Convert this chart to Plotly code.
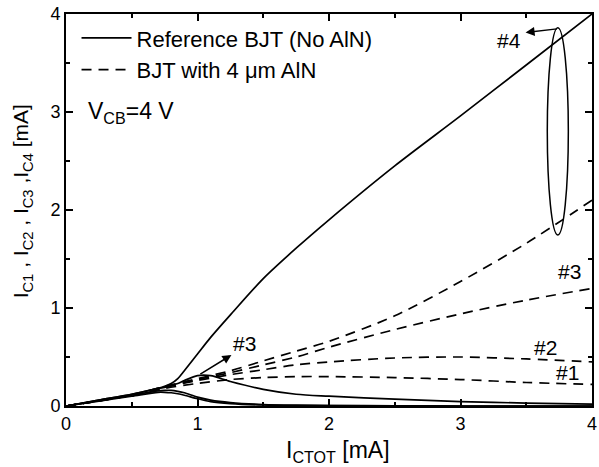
import plotly.graph_objects as go

# Reference BJT (No AlN) - solid
x_ref = [0, 0.25, 0.5, 0.7, 0.75, 0.8, 0.85, 0.9, 1.0, 1.1, 1.25, 1.5, 1.75, 2.0, 2.5, 3.0, 3.5, 4.0]
ref_c4 = [0, 0.06, 0.12, 0.18, 0.2, 0.23, 0.28, 0.36, 0.53, 0.7, 0.93, 1.3, 1.61, 1.9, 2.45, 2.96, 3.48, 4.0]
ref_c3 = [0, 0.06, 0.12, 0.18, 0.19, 0.21, 0.23, 0.26, 0.31, 0.31, 0.25, 0.17, 0.12, 0.1, 0.07, 0.045, 0.03, 0.02]
ref_c2 = [0, 0.055, 0.11, 0.155, 0.16, 0.16, 0.15, 0.135, 0.09, 0.06, 0.035, 0.015, 0.008, 0.005, 0.002, 0.0, 0.0, 0.0]
ref_c1 = [0, 0.05, 0.1, 0.14, 0.14, 0.135, 0.125, 0.11, 0.075, 0.045, 0.025, 0.01, 0.005, 0.003, 0.001, 0.0, 0.0, 0.0]

# BJT with 4 um AlN - dashed
x_aln = [0, 0.5, 0.75, 1.0, 1.25, 1.5, 1.75, 2.0, 2.5, 3.0, 3.5, 4.0]
aln_c4 = [0, 0.11, 0.2, 0.28, 0.36, 0.46, 0.56, 0.66, 0.92, 1.27, 1.66, 2.1]
aln_c3 = [0, 0.11, 0.19, 0.27, 0.34, 0.42, 0.5, 0.6, 0.78, 0.94, 1.08, 1.2]
aln_c2 = [0, 0.11, 0.19, 0.26, 0.32, 0.37, 0.42, 0.45, 0.49, 0.5, 0.48, 0.45]
aln_c1 = [0, 0.11, 0.18, 0.23, 0.27, 0.29, 0.3, 0.3, 0.29, 0.27, 0.24, 0.22]

x_ticks = [0, 1, 2, 3, 4]
y_ticks = [0, 1, 2, 3, 4]

FONT = "Liberation Sans, Arial, sans-serif"
fig = go.Figure()

for i, ys in enumerate([ref_c1, ref_c2, ref_c3, ref_c4]):
    fig.add_trace(go.Scatter(x=x_ref, y=ys, mode="lines", line=dict(color="black", width=1.7, shape="spline", smoothing=0.8),
                             name="Reference BJT (No AlN)", legendgroup="ref", showlegend=(i == 0)))
for i, ys in enumerate([aln_c1, aln_c2, aln_c3, aln_c4]):
    fig.add_trace(go.Scatter(x=x_aln, y=ys, mode="lines", line=dict(color="black", width=1.7, dash="10px,7px", shape="spline", smoothing=0.8),
                             name="BJT with 4 \u03bcm AlN", legendgroup="aln", showlegend=(i == 0)))

axis_common = dict(range=[0, 4], showgrid=False, zeroline=False, showline=True, linecolor="black", linewidth=2,
                   mirror="ticks", ticks="inside", ticklen=7, tickwidth=1.5, tickcolor="black",
                   ticklabeloverflow="allow",
                   tickfont=dict(family=FONT, size=18, color="black"),
                   minor=dict(ticks="inside", ticklen=4, tickwidth=1.5, tickcolor="black", dtick=0.5))

fig.update_xaxes(**axis_common, tickvals=x_ticks)
fig.update_yaxes(**axis_common, tickvals=y_ticks)

# Axis titles
fig.add_annotation(x=0.518, y=-0.117, xref="paper", yref="paper", text="I<sub>CTOT</sub> [mA]", showarrow=False,
                   xanchor="center", yanchor="middle", font=dict(family=FONT, size=23, color="black"))
fig.add_annotation(x=-0.083, y=0.523, xref="paper", yref="paper",
                   text="I<sub>C1</sub> , I<sub>C2</sub> , I<sub>C3</sub> ,I<sub>C4</sub> [mA]", showarrow=False,
                   textangle=-90, xanchor="center", yanchor="middle", font=dict(family=FONT, size=21, color="black"))

# Ellipse around #4
fig.add_shape(type="circle", xref="x", yref="y", x0=3.66, x1=3.82, y0=1.745, y1=3.86,
              line=dict(color="black", width=1.5))

# Arrows
fig.add_annotation(x=3.495, y=3.81, ax=3.745, ay=3.85, xref="x", yref="y", axref="x", ayref="y",
                   text="", showarrow=True, arrowhead=2, arrowsize=1.2, arrowwidth=1.5, arrowcolor="black")
fig.add_annotation(x=1.258, y=0.52, ax=1.01, ay=0.316, xref="x", yref="y", axref="x", ayref="y",
                   text="", showarrow=True, arrowhead=2, arrowsize=1.2, arrowwidth=1.5, arrowcolor="black")

labels = [("#4", 3.37, 3.73), ("#3", 1.36, 0.64), ("#3", 3.83, 1.37), ("#2", 3.65, 0.6), ("#1", 3.81, 0.34)]
for t, lx, ly in labels:
    fig.add_annotation(x=lx, y=ly, xref="x", yref="y", text=t, showarrow=False,
                       font=dict(family=FONT, size=21, color="black"))

fig.add_annotation(x=0.15, y=3.0, xref="x", yref="y", text="V<sub>CB</sub>=4 V", showarrow=False, xanchor="left",
                   font=dict(family=FONT, size=23, color="black"))

fig.update_layout(
    width=599, height=467,
    margin=dict(l=66, r=2, t=14, b=61),
    plot_bgcolor="white", paper_bgcolor="white",
    showlegend=True,
    legend=dict(x=0.02, y=0.992, xanchor="left", yanchor="top", bgcolor="rgba(0,0,0,0)",
                font=dict(family=FONT, size=22, color="black"), tracegroupgap=0, itemwidth=50),
)

fig.write_html("out.html", config={"displayModeBar": False}, post_script="document.body.style.margin='0';")
